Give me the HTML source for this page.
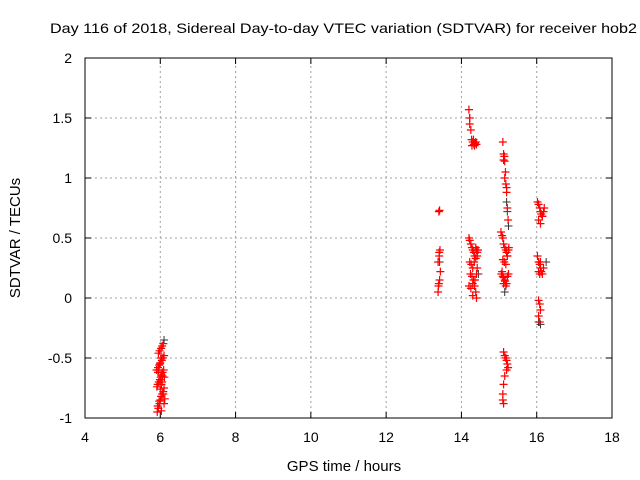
<!DOCTYPE html>
<html><head><meta charset="utf-8"><style>
body{margin:0;background:#fff}
svg{display:block;font-family:"Liberation Sans",sans-serif}
</style></head><body>
<svg id="c" width="640" height="480" xmlns="http://www.w3.org/2000/svg">
<text x="50" y="33" font-size="14" textLength="587" lengthAdjust="spacingAndGlyphs">Day 116 of 2018, Sidereal Day-to-day VTEC variation (SDTVAR) for receiver hob2</text>
<text x="344" y="471" font-size="15" text-anchor="middle">GPS time / hours</text>
<text transform="translate(20,238) rotate(-90)" font-size="15" text-anchor="middle">SDTVAR / TECUs</text>
<g id="grid"></g><g id="axes"></g><g id="blk"></g><g id="red"></g>
<rect x="85" y="58" width="527" height="360" fill="none" stroke="#000"/>
</svg>
<script>
const xTicks=[4,6,8,10,12,14,16,18];
const yTicks=[-1,-0.5,0,0.5,1,1.5,2];
const yTickLabels=["-1","-0.5","0","0.5","1","1.5","2"];
const blackX=[14.2,14.22,15.2,15.22,16.05,16.1,13.42,14.45,15.25,16.25,6.1,15.15];
const blackY=[1.57,1.5,0.8,0.72,-0.2,-0.22,0.3,0.2,0.6,0.3,-0.35,0.05];
const redX=[5.92,5.95,5.98,6.0,6.02,6.05,6.08,6.1,5.93,5.96,5.99,6.01,6.03,6.06,6.09,5.94,5.97,6.0,6.04,6.07,6.1,5.95,5.98,6.02,6.05,6.08,5.93,5.97,6.0,6.03,6.06,5.96,5.99,6.02,6.05,6.08,6.1,5.94,6.0,6.03,5.91,6.12,5.9,6.11,
13.38,13.4,13.42,13.44,13.38,13.41,13.43,13.4,13.42,13.39,13.41,
14.2,14.22,14.22,14.25,14.27,14.3,14.33,14.35,14.38,14.4,14.28,14.32,14.36,
14.2,14.22,14.25,14.28,14.3,14.33,14.35,14.38,14.4,14.42,14.22,14.26,14.3,14.34,14.38,14.42,14.24,14.28,14.32,14.36,14.4,14.3,14.35,14.38,14.2,14.25,14.3,14.4,14.42,14.44,
15.1,15.12,15.14,15.12,15.15,15.17,15.15,15.18,15.2,15.2,15.22,15.24,
15.05,15.08,15.1,15.12,15.15,15.18,15.2,15.22,15.25,15.1,15.14,15.18,15.22,15.26,15.06,15.1,15.15,15.2,15.25,15.08,15.12,15.16,15.22,15.12,15.18,
15.12,15.15,15.18,15.2,15.22,15.24,15.2,15.15,15.12,15.1,15.1,15.12,
16.02,16.05,16.08,16.1,16.12,16.15,16.18,16.2,16.05,16.1,16.15,
16.02,16.05,16.08,16.1,16.12,16.15,16.05,16.1,16.18,16.08,
16.05,16.08,16.1,16.05,16.08];
const redY=[-0.95,-0.92,-0.88,-0.85,-0.82,-0.8,-0.78,-0.75,-0.72,-0.7,-0.68,-0.66,-0.64,-0.62,-0.6,-0.58,-0.56,-0.54,-0.52,-0.5,-0.48,-0.46,-0.44,-0.42,-0.4,-0.38,-0.9,-0.86,-0.76,-0.72,-0.65,-0.6,-0.55,-0.5,-0.7,-0.8,-0.88,-0.62,-0.68,-0.94,-0.74,-0.84,-0.6,-0.66,
0.05,0.12,0.15,0.22,0.3,0.35,0.4,0.72,0.73,0.1,0.38,
1.57,1.5,1.45,1.4,1.32,1.3,1.28,1.27,1.3,1.28,1.27,1.32,1.29,
0.5,0.48,0.45,0.42,0.4,0.38,0.35,0.42,0.4,0.38,0.3,0.28,0.25,0.3,0.33,0.35,0.2,0.18,0.15,0.15,0.2,0.12,0.1,0.05,0.1,0.08,0.02,0.0,0.25,0.4,
1.3,1.2,1.18,1.15,1.14,1.05,1.0,0.95,0.92,0.88,0.75,0.65,
0.55,0.52,0.5,0.45,0.42,0.4,0.38,0.35,0.4,0.32,0.3,0.28,0.35,0.42,0.2,0.18,0.15,0.12,0.2,0.22,0.17,0.14,0.18,0.12,0.1,
-0.45,-0.48,-0.5,-0.52,-0.55,-0.58,-0.6,-0.65,-0.72,-0.8,-0.85,-0.88,
0.8,0.78,0.75,0.72,0.7,0.68,0.72,0.75,0.65,0.62,0.68,
0.35,0.3,0.28,0.25,0.22,0.2,0.22,0.3,0.25,0.2,
-0.02,-0.05,-0.1,-0.15,-0.2];
const X0=85,X1=612,Y0=418,Y1=58;
const xs=v=>X0+(v-4)/14*(X1-X0);
const ys=v=>Y0-(v+1)/3*(Y0-Y1);
const NS="http://www.w3.org/2000/svg";
function mk(t,a,p){const e=document.createElementNS(NS,t);for(const k in a)e.setAttribute(k,a[k]);p.appendChild(e);return e;}
const grid=document.getElementById('grid'),axes=document.getElementById('axes');
xTicks.forEach((t,i)=>{const x=xs(t);
 if(i>0&&i<xTicks.length-1){const l=mk('line',{x1:x,y1:Y0,x2:x,y2:Y1,stroke:'#a0a0a0','stroke-dasharray':'2,3'},grid);}
 mk('line',{x1:x,y1:Y0,x2:x,y2:Y0-6,stroke:'#000'},axes);mk('line',{x1:x,y1:Y1,x2:x,y2:Y1+6,stroke:'#000'},axes);
 const tx=mk('text',{x:x,y:Y0+24,'font-size':14,'text-anchor':'middle'},axes);tx.textContent=t;
 });
yTicks.forEach((t,i)=>{const y=ys(t);
 if(i>0&&i<yTicks.length-1){const l=mk('line',{x1:X0,y1:y,x2:X1,y2:y,stroke:'#a0a0a0','stroke-dasharray':'2,3'},grid);}
 mk('line',{x1:X0,y1:y,x2:X0+6,y2:y,stroke:'#000'},axes);mk('line',{x1:X1,y1:y,x2:X1-6,y2:y,stroke:'#000'},axes);
 const tx=mk('text',{x:X0-13,y:y+5,'font-size':14,'text-anchor':'end'},axes);tx.textContent=yTickLabels[i];
 });
function plus(g,x,y,c,w){const p=mk('path',{d:`M${x-4},${y}h8M${x},${y-4}v8`,stroke:c,'stroke-width':w,fill:'none'},g);return p;}
const blk=document.getElementById('blk'),red=document.getElementById('red');
blackX.forEach((v,i)=>{const p=plus(blk,xs(v),ys(blackY[i]),'#333',1);
 
 });
redX.forEach((v,i)=>{const p=plus(red,xs(v),ys(redY[i]),'#f00',1.2);
 
 });
</script>
</body></html>
